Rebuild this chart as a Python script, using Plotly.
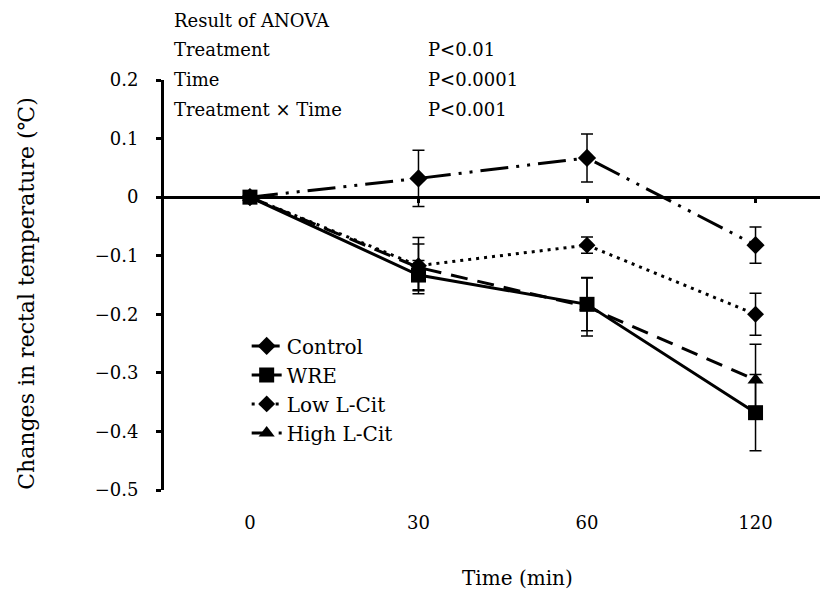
import plotly.graph_objects as go

# ---- data ----
time_labels = ["0", "30", "60", "120"]
series_names = ["Control", "WRE", "Low L-Cit", "High L-Cit"]
control = [0.0, 0.032, 0.067, -0.082]
control_err = [0.0, 0.048, 0.041, 0.031]
wre = [0.0, -0.133, -0.183, -0.368]
wre_err = [0.0, 0.025, 0.045, 0.065]
low_cit = [0.0, -0.117, -0.082, -0.200]
low_cit_err = [0.0, 0.048, 0.014, 0.036]
high_cit = [0.0, -0.120, -0.187, -0.312]
high_cit_err = [0.0, 0.040, 0.050, 0.061]
y_ticks = [0.2, 0.1, 0.0, -0.1, -0.2, -0.3, -0.4, -0.5]
y_tick_text = ["0.2", "0.1", "0", "−0.1", "−0.2", "−0.3", "−0.4", "−0.5"]

FONT = "DejaVu Serif"
FS = 18

styles = [
    dict(symbol="diamond", size=14, dash="28px,8px,3px,8px,3px,8px"),
    dict(symbol="square", size=15, dash="solid"),
    dict(symbol="diamond", size=13, dash="3px,5px"),
    dict(symbol="triangle-up", size=14, dash="17px,10px"),
]
values = [control, wre, low_cit, high_cit]
errors = [control_err, wre_err, low_cit_err, high_cit_err]

fig = go.Figure()
for name, v, e, st in zip(series_names, values, errors, styles):
    fig.add_trace(go.Scatter(
        x=time_labels, y=v, name=name, mode="lines+markers",
        line=dict(color="black", width=3, dash=st["dash"]),
        marker=dict(symbol=st["symbol"], size=st["size"], color="black"),
        error_y=dict(type="data", array=e, visible=True, color="black",
                     thickness=1.5, width=6),
        cliponaxis=False,
    ))

# helper trace for the axis drawn through y = 0
fig.add_trace(go.Scatter(x=time_labels, y=[None] * len(time_labels),
                         xaxis="x2", showlegend=False, hoverinfo="skip"))

font = dict(family=FONT, size=FS, color="black")

# significance letters
letters = [
    ("a", "60", 0.092), ("a", "120", -0.067),
    ("ab", "60", -0.070), ("ab", "120", -0.177),
    ("b", "60", -0.166), ("b", "60", -0.224),
    ("b", "120", -0.309), ("b", "120", -0.374),
]
annotations = []
for t, xc, yv in letters:
    annotations.append(dict(text=t, x=xc, y=yv, xref="x", yref="y",
                            xanchor="left", yanchor="middle", xshift=6,
                            showarrow=False, font=font))

# ANOVA block
anova_rows = [("Result of ANOVA", ""), ("Treatment", "P<0.01"),
              ("Time", "P<0.0001"), ("Treatment × Time", "P<0.001")]
row_y = [1.151, 1.075, 1.002, 0.929]
for i, ((lab, p), yy) in enumerate(zip(anova_rows, row_y)):
    if i == 0:
        pos = dict(y=(410 + 72) / 410, yanchor="top")
    else:
        pos = dict(y=yy, yanchor="middle")
    annotations.append(dict(text=lab, x=0.012, xref="paper", yref="paper",
                            xanchor="left", showarrow=False, font=font, **pos))
    if p:
        annotations.append(dict(text=p, x=0.3945, xref="paper", yref="paper",
                                xanchor="left", showarrow=False, font=font, **pos))

# axis titles
annotations.append(dict(text="Time (min)", x=0.532, y=-0.2146, xref="paper", yref="paper",
                        xanchor="center", yanchor="middle", showarrow=False,
                        font=dict(family=FONT, size=20, color="black")))
annotations.append(dict(text="Changes in rectal temperature (℃)", x=-0.207, y=0.48,
                        xref="paper", yref="paper", textangle=-90,
                        xanchor="center", yanchor="middle", showarrow=False,
                        font=dict(family=FONT, size=22, color="black")))

fig.update_layout(
    width=820, height=584,
    margin=dict(l=156, r=0, t=72, b=102),
    paper_bgcolor="white", plot_bgcolor="white",
    font=font,
    showlegend=True,
    legend=dict(x=0.1245, y=0.399, xanchor="left", yanchor="top",
                bgcolor="rgba(0,0,0,0)", font=dict(family=FONT, size=20, color="black"),
                tracegroupgap=0),
    xaxis=dict(type="category", range=[-0.51, 3.43], showline=False, showgrid=False,
               zeroline=False, ticks="", ticklabelstandoff=20, tickfont=font),
    xaxis2=dict(type="category", overlaying="x", matches="x", anchor="free",
                position=0.5 / 0.7, showline=True, linewidth=3, linecolor="black",
                ticks="outside", ticklen=4, tickwidth=3, tickcolor="black",
                showticklabels=False, showgrid=False, zeroline=False),
    yaxis=dict(range=[-0.5, 0.2], tickvals=y_ticks, ticktext=y_tick_text,
               showline=True, linewidth=3, linecolor="black",
               ticks="outside", ticklen=5, tickwidth=3, tickcolor="black",
               showgrid=False, zeroline=False, ticklabelstandoff=14, tickfont=font),
    annotations=annotations,
)

fig.write_html("out.html")
